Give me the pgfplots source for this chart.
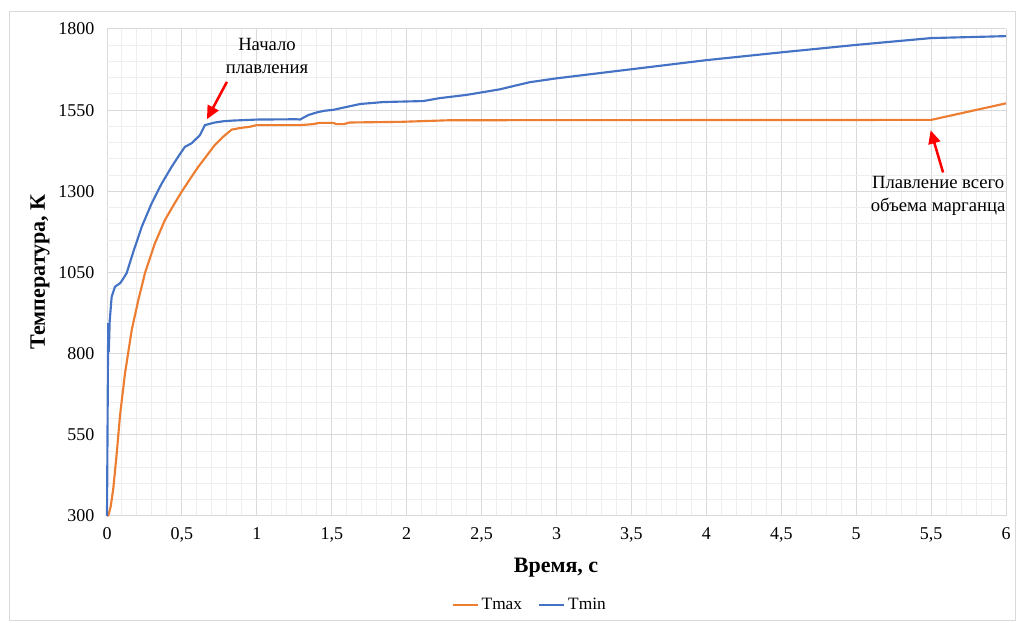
\documentclass[border=0pt]{standalone}
\usepackage{pgfplots}
\pgfplotsset{compat=1.18}
\usepackage{fontspec}
\setmainfont{Liberation Serif}
\usetikzlibrary{arrows.meta}
\definecolor{tmaxc}{HTML}{ED7D31}
\definecolor{tminc}{HTML}{4472C4}
\definecolor{majgrid}{HTML}{D9D9D9}
\definecolor{mingrid}{HTML}{EEEEEE}
\begin{document}
\begin{tikzpicture}[x=0.75pt,y=0.75pt]
\useasboundingbox (0,0) rectangle (1016,623);
\draw[majgrid, line width=0.75pt] (9,2) rectangle (1015,611);
\begin{axis}[
  at={(80.25pt,80.25pt)}, anchor=south west,
  scale only axis, width=674.25pt, height=365.25pt,
  xmin=0, xmax=6, ymin=300, ymax=1800,
  xtick={0,0.5,...,6}, ytick={300,550,...,1800},
  minor x tick num=4, minor y tick num=4,
  grid=both,
  major grid style={majgrid, line width=0.75pt},
  minor grid style={mingrid, line width=0.75pt},
  axis line style={draw=none},
  major tick length=0pt, minor tick length=0pt,
  tick label style={font=\fontsize{13.5}{15}\selectfont, black},
  xticklabel style={yshift=-5pt},
  yticklabel style={xshift=-6pt},
  /pgf/number format/assume math mode=true,
  /pgf/number format/use comma,
  /pgf/number format/1000 sep={},
  legend style={at={(0.4705,-0.183)}, anchor=center, draw=none, fill=none,
    font=\fontsize{13}{15}\selectfont, legend columns=2,
    /tikz/every even column/.append style={column sep=10pt}},
  legend image code/.code={\draw[#1, line width=1.6pt] (0pt,0pt) -- (19pt,0pt);},
  clip=false,
]
\addplot[tmaxc, line width=1.6pt] coordinates {
(0,300) (0.01,303) (0.025,330) (0.042,385) (0.065,493) (0.087,610) (0.12,739)
(0.165,873) (0.209,965) (0.254,1049) (0.32,1140) (0.387,1212) (0.45,1262)
(0.5,1300) (0.56,1342) (0.61,1376) (0.666,1410) (0.72,1443) (0.78,1470)
(0.832,1490) (0.888,1495) (0.955,1499) (1.0,1504) (1.29,1504) (1.377,1507)
(1.42,1511) (1.51,1511) (1.53,1507) (1.58,1507) (1.62,1512) (1.96,1514)
(2.29,1519) (5.5,1520) (6.0,1571)
};
\addlegendentry{Tmax}
\addplot[tminc, line width=1.6pt] coordinates {
(0,300) (0.008,894) (0.012,805) (0.018,900) (0.031,975) (0.042,990) (0.053,1006)
(0.087,1017) (0.1,1025) (0.131,1048) (0.176,1114) (0.232,1191) (0.298,1263)
(0.365,1324) (0.432,1376) (0.48,1410) (0.52,1437) (0.565,1448) (0.62,1473)
(0.654,1504) (0.72,1512) (0.78,1516) (0.843,1518) (1.0,1521) (1.266,1522)
(1.288,1521) (1.344,1535) (1.4,1543) (1.45,1548) (1.51,1551) (1.6,1560)
(1.69,1569) (1.845,1575) (2.11,1578) (2.22,1587) (2.40,1597) (2.62,1614)
(2.82,1636) (3.0,1648) (3.5,1676) (4.0,1704) (4.5,1728) (5.0,1751)
(5.5,1772) (6.0,1778)
};
\addlegendentry{Tmin}
\draw[red, line width=1.9pt, -{Triangle[length=10pt,width=9pt]}] (axis cs:0.80,1637) -- (axis cs:0.667,1522);
\node[align=center, font=\fontsize{14}{17.25}\selectfont] at (axis cs:1.068,1716) {Начало\\плавления};
\draw[red, line width=1.9pt, -{Triangle[length=10pt,width=9pt]}] (axis cs:5.58,1358) -- (axis cs:5.497,1488);
\node[align=center, font=\fontsize{14}{17.25}\selectfont] at (axis cs:5.547,1286) {Плавление всего\\объема марганца};
\end{axis}
\node[font=\bfseries\fontsize{16.5}{18}\selectfont] at (556,55) {Время, с};
\node[font=\bfseries\fontsize{16.5}{18}\selectfont, rotate=90] at (40,351) {Температура, К};
\end{tikzpicture}
\end{document}
